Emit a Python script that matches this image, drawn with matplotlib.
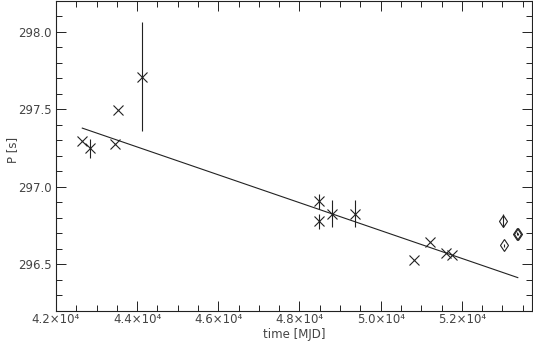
import numpy as np
import matplotlib
matplotlib.use("Agg")
import matplotlib.pyplot as plt
from matplotlib.ticker import MultipleLocator, FuncFormatter

# crosses: period measurements
t_x = [42640, 42837, 43460, 43526, 44125, 48474, 48474, 48801, 49377,
       50813, 51206, 51600, 51765]
p_x = [297.293, 297.248, 297.276, 297.496, 297.710, 296.906, 296.778,
       296.827, 296.827, 296.530, 296.647, 296.575, 296.562]
e_x = [0.0, 0.062, 0.0, 0.0, 0.353, 0.049, 0.050, 0.087, 0.087,
       0.0, 0.0, 0.0, 0.0]

# diamonds: recent measurements
t_d = [53010, 53052, 53370, 53390]
p_d = [296.782, 296.622, 296.699, 296.696]
e_d = [0.040, 0.008, 0.008, 0.008]

# linear fit line (endpoints)
t_fit = [42648, 53380]
p_fit = [297.378, 296.415]

plt.rcParams.update({"font.family": "DejaVu Sans", "font.size": 8.5})
fig = plt.figure(figsize=(5.33, 3.46), dpi=100)
ax = fig.add_axes([56 / 533, 35 / 346, 476 / 533, 310.5 / 346])

ink = "#222222"
txt = "#444444"
ax.errorbar(t_x, p_x, yerr=e_x, fmt="x", color=ink, ms=7, mew=0.8,
            elinewidth=0.8, capsize=0)
ax.errorbar(t_d, p_d, yerr=e_d, fmt="d", color=ink, mfc="none", ms=6.5,
            mew=0.8, elinewidth=0.8, capsize=0)
ax.plot(t_fit, p_fit, color=ink, lw=0.8)

ax.set_xlim(42000, 53730)
ax.set_ylim(296.2, 298.2)
ax.xaxis.set_major_locator(MultipleLocator(2000))
ax.xaxis.set_minor_locator(MultipleLocator(500))
ax.yaxis.set_major_locator(MultipleLocator(0.5))
ax.yaxis.set_minor_locator(MultipleLocator(0.1))
ax.xaxis.set_major_formatter(FuncFormatter(lambda v, p: f"{v/1e4:.1f}×10⁴"))
ax.yaxis.set_major_formatter(FuncFormatter(lambda v, p: f"{v:.1f}"))
ax.tick_params(which="both", direction="in", top=True, right=True,
               colors=ink, labelcolor=txt, width=0.7)
ax.tick_params(which="major", length=7)
ax.tick_params(which="minor", length=4)
ax.tick_params(axis="y", which="major", pad=3)
ax.tick_params(axis="x", which="major", pad=1.5)
for s in ax.spines.values():
    s.set_linewidth(0.8)
    s.set_color(ink)

ax.set_xlabel("time [MJD]", color=txt)
ax.xaxis.set_label_coords(0.5, -0.055)
ax.set_ylabel("P [s]", color=txt)
ax.yaxis.set_label_coords(-0.078, 0.52)

fig.savefig("out.png", dpi=100)
